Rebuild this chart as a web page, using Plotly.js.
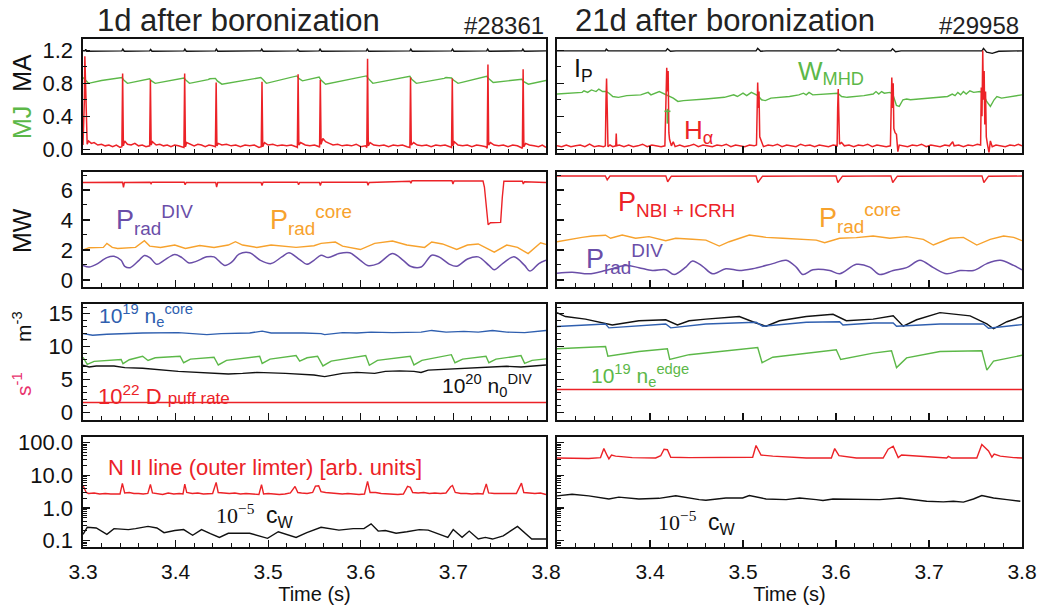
<!DOCTYPE html>
<html><head><meta charset="utf-8">
<script src="https://cdn.plot.ly/plotly-3.0.1.min.js"></script>
<style>html,body{margin:0;padding:0;background:#fff;}#chart{width:1040px;height:608px;}</style>
</head><body><div id="chart"></div>
<script>
// ---------------- DATA ----------------
const timeTicks = [3.3,3.4,3.5,3.6,3.7,3.8];
const timeTickTextL = ['3.3','3.4','3.5','3.6','3.7','3.8'];
const timeTickTextR = ['','3.4','3.5','3.6','3.7','3.8'];
const yTicks = [[0,0.4,0.8,1.2],[0,2,4,6],[0,5,10,15],[0.1,1,10,100]];
const yTickText = [['0.0','0.4','0.8','1.2'],['0','2','4','6'],['0','5','10','15'],['0.1','1.0','10.0','100.0']];

// Row 1 left (#28361)
const ipL = [[3.300,1.195],[3.3022,1.195],[3.303,1.215],[3.304,1.19],[3.342,1.195],[3.343,1.215],[3.3445,1.19],[3.372,1.195],[3.373,1.212],[3.3745,1.19],[3.409,1.195],[3.410,1.215],[3.4115,1.19],[3.443,1.195],[3.444,1.215],[3.4455,1.19],[3.492,1.195],[3.493,1.215],[3.4945,1.19],[3.531,1.195],[3.532,1.212],[3.5335,1.19],[3.555,1.195],[3.556,1.215],[3.5575,1.19],[3.606,1.195],[3.607,1.215],[3.6085,1.19],[3.653,1.195],[3.654,1.215],[3.6555,1.19],[3.698,1.195],[3.699,1.215],[3.7005,1.19],[3.736,1.195],[3.737,1.215],[3.7385,1.19],[3.774,1.195],[3.775,1.215],[3.7765,1.19],[3.800,1.195]];
const wmhdL = [[3.300,0.87],[3.302,0.85],[3.306,0.80],[3.320,0.835],[3.342,0.87],[3.344,0.84],[3.348,0.80],[3.372,0.855],[3.374,0.83],[3.378,0.80],[3.409,0.865],[3.411,0.84],[3.415,0.80],[3.435,0.845],[3.437,0.855],[3.443,0.86],[3.445,0.83],[3.450,0.79],[3.492,0.87],[3.494,0.85],[3.498,0.80],[3.531,0.89],[3.533,0.86],[3.537,0.83],[3.555,0.875],[3.557,0.84],[3.562,0.79],[3.606,0.89],[3.608,0.86],[3.613,0.80],[3.653,0.885],[3.655,0.85],[3.660,0.80],[3.690,0.86],[3.692,0.87],[3.698,0.865],[3.700,0.84],[3.705,0.80],[3.736,0.885],[3.738,0.86],[3.743,0.81],[3.774,0.85],[3.776,0.82],[3.781,0.79],[3.800,0.835]];
const halphaL = [[3.300,0.05],[3.3015,0.6],[3.302,1.13],[3.303,0.5],[3.304,0.30],[3.3045,0.06],[3.306,0.10],[3.309,0.07],[3.312,0.08],[3.316,0.05],[3.320,0.06],[3.324,0.04],[3.328,0.05],[3.332,0.03],[3.336,0.05],[3.340,0.02],[3.342,0.03],[3.3428,0.92],[3.3436,0.04],[3.345,0.10],[3.348,0.06],[3.352,0.05],[3.356,0.07],[3.360,0.04],[3.364,0.05],[3.368,0.03],[3.372,0.04],[3.3728,0.84],[3.3736,0.05],[3.375,0.09],[3.379,0.05],[3.383,0.06],[3.387,0.04],[3.391,0.05],[3.395,0.03],[3.399,0.05],[3.403,0.04],[3.407,0.03],[3.409,0.02],[3.4098,0.92],[3.4106,0.03],[3.412,0.08],[3.416,0.06],[3.420,0.04],[3.424,0.06],[3.428,0.05],[3.432,0.03],[3.436,0.05],[3.440,0.04],[3.443,0.03],[3.4438,0.81],[3.4446,0.04],[3.446,0.07],[3.450,0.05],[3.455,0.06],[3.460,0.04],[3.465,0.05],[3.470,0.03],[3.475,0.05],[3.480,0.04],[3.485,0.05],[3.490,0.02],[3.4925,0.03],[3.4933,0.82],[3.4941,0.03],[3.496,0.08],[3.500,0.05],[3.505,0.06],[3.510,0.04],[3.515,0.05],[3.520,0.04],[3.525,0.05],[3.530,0.03],[3.5315,0.02],[3.5323,0.91],[3.5331,0.05],[3.535,0.08],[3.540,0.05],[3.545,0.04],[3.550,0.05],[3.555,0.03],[3.5555,0.02],[3.5563,0.84],[3.5571,0.06],[3.559,0.13],[3.562,0.09],[3.566,0.07],[3.570,0.05],[3.575,0.06],[3.580,0.04],[3.585,0.05],[3.590,0.04],[3.595,0.06],[3.600,0.03],[3.605,0.04],[3.6065,0.02],[3.6073,1.10],[3.6081,0.04],[3.610,0.08],[3.614,0.05],[3.620,0.04],[3.625,0.05],[3.630,0.03],[3.635,0.05],[3.640,0.04],[3.645,0.05],[3.650,0.03],[3.653,0.02],[3.6537,0.87],[3.6545,0.05],[3.657,0.08],[3.661,0.05],[3.666,0.04],[3.671,0.05],[3.676,0.03],[3.681,0.05],[3.686,0.04],[3.691,0.05],[3.696,0.03],[3.698,0.02],[3.6988,0.86],[3.6996,0.04],[3.701,0.09],[3.705,0.05],[3.710,0.04],[3.715,0.05],[3.720,0.03],[3.725,0.05],[3.730,0.04],[3.735,0.03],[3.7365,0.01],[3.7373,1.03],[3.7381,0.05],[3.740,0.08],[3.744,0.05],[3.749,0.04],[3.754,0.05],[3.759,0.03],[3.764,0.05],[3.769,0.04],[3.773,0.02],[3.7745,0.01],[3.7753,0.97],[3.7761,0.03],[3.778,0.07],[3.782,0.05],[3.787,0.04],[3.792,0.03],[3.796,0.05],[3.800,0.02]];

// Row 1 right (#29958)
const ipR = [[3.300,1.195],[3.352,1.195],[3.353,1.215],[3.355,1.195],[3.417,1.195],[3.4187,1.22],[3.422,1.19],[3.428,1.195],[3.514,1.195],[3.5158,1.225],[3.519,1.19],[3.525,1.195],[3.600,1.195],[3.6022,1.215],[3.605,1.195],[3.659,1.195],[3.6608,1.22],[3.664,1.185],[3.670,1.195],[3.757,1.195],[3.7586,1.225],[3.762,1.18],[3.768,1.165],[3.775,1.19],[3.800,1.195]];
const wmhdR = [[3.300,0.67],[3.327,0.69],[3.329,0.71],[3.333,0.69],[3.337,0.72],[3.342,0.70],[3.345,0.73],[3.349,0.70],[3.353,0.70],[3.356,0.68],[3.360,0.64],[3.366,0.63],[3.375,0.65],[3.390,0.66],[3.398,0.69],[3.401,0.66],[3.410,0.70],[3.414,0.68],[3.418,0.66],[3.425,0.62],[3.430,0.58],[3.436,0.59],[3.460,0.61],[3.480,0.63],[3.490,0.66],[3.494,0.64],[3.500,0.68],[3.504,0.65],[3.509,0.69],[3.513,0.67],[3.516,0.65],[3.520,0.60],[3.524,0.59],[3.530,0.62],[3.550,0.64],[3.560,0.66],[3.565,0.68],[3.568,0.66],[3.571,0.69],[3.575,0.66],[3.590,0.67],[3.602,0.68],[3.606,0.64],[3.612,0.63],[3.630,0.65],[3.640,0.67],[3.643,0.70],[3.646,0.67],[3.649,0.70],[3.652,0.68],[3.658,0.69],[3.661,0.67],[3.665,0.53],[3.668,0.52],[3.672,0.60],[3.676,0.61],[3.680,0.60],[3.700,0.62],[3.720,0.64],[3.725,0.67],[3.728,0.65],[3.731,0.69],[3.734,0.66],[3.737,0.70],[3.740,0.67],[3.744,0.71],[3.748,0.69],[3.755,0.70],[3.758,0.68],[3.762,0.58],[3.766,0.52],[3.770,0.60],[3.773,0.64],[3.778,0.62],[3.790,0.64],[3.800,0.66]];
const wmhdCrossT = [3.4187,3.4187,null,3.4155,3.4220];
const wmhdCrossV = [0.49,0.31,null,0.46,0.46];
const halphaR = [[3.300,0.04],[3.305,0.03],[3.310,0.05],[3.315,0.03],[3.320,0.04],[3.325,0.05],[3.330,0.03],[3.335,0.06],[3.340,0.03],[3.345,0.04],[3.350,0.03],[3.352,0.04],[3.3527,0.6],[3.3533,0.86],[3.354,0.5],[3.3548,0.03],[3.357,0.05],[3.360,0.03],[3.3632,0.04],[3.3637,0.19],[3.3642,0.04],[3.367,0.05],[3.372,0.03],[3.377,0.05],[3.382,0.03],[3.387,0.04],[3.392,0.06],[3.397,0.03],[3.402,0.05],[3.407,0.04],[3.412,0.03],[3.416,0.04],[3.4172,0.5],[3.418,0.99],[3.4188,0.7],[3.4195,0.95],[3.4203,0.2],[3.421,0.12],[3.423,0.04],[3.425,0.09],[3.427,0.03],[3.432,0.05],[3.437,0.03],[3.442,0.04],[3.447,0.06],[3.452,0.03],[3.457,0.05],[3.462,0.04],[3.467,0.03],[3.472,0.05],[3.477,0.04],[3.482,0.06],[3.487,0.03],[3.492,0.05],[3.497,0.04],[3.502,0.03],[3.507,0.05],[3.512,0.04],[3.5145,0.05],[3.5152,0.6],[3.5158,0.81],[3.5165,0.5],[3.5172,0.7],[3.518,0.15],[3.520,0.08],[3.522,0.03],[3.527,0.05],[3.532,0.04],[3.537,0.06],[3.542,0.03],[3.547,0.05],[3.552,0.04],[3.557,0.03],[3.562,0.06],[3.567,0.04],[3.572,0.05],[3.577,0.03],[3.582,0.05],[3.587,0.04],[3.592,0.03],[3.597,0.05],[3.6012,0.04],[3.6018,0.5],[3.6024,0.73],[3.6031,0.4],[3.6038,0.06],[3.606,0.08],[3.609,0.04],[3.614,0.05],[3.619,0.03],[3.624,0.05],[3.629,0.04],[3.634,0.06],[3.639,0.03],[3.644,0.05],[3.649,0.04],[3.654,0.03],[3.6585,0.04],[3.6592,0.6],[3.6600,0.87],[3.6608,0.5],[3.6615,0.8],[3.6622,0.25],[3.6635,0.2],[3.665,0.18],[3.6665,-0.03],[3.668,0.05],[3.672,0.04],[3.677,0.03],[3.682,0.05],[3.687,0.04],[3.692,0.06],[3.697,0.03],[3.702,0.05],[3.707,0.04],[3.712,0.03],[3.717,0.05],[3.722,0.04],[3.7255,0.09],[3.727,0.04],[3.732,0.05],[3.737,0.03],[3.742,0.05],[3.747,0.04],[3.752,0.06],[3.7555,0.05],[3.7562,0.75],[3.7570,0.4],[3.7578,1.2],[3.7585,0.6],[3.7593,0.95],[3.7600,0.3],[3.7608,0.7],[3.7616,0.15],[3.763,0.05],[3.7645,-0.04],[3.766,0.10],[3.768,0.03],[3.772,0.05],[3.777,0.04],[3.782,0.03],[3.787,0.05],[3.792,0.04],[3.796,0.06],[3.800,0.04]];

// Row 2 left: heating power, radiated powers (MW)
const pheatL = [[3.300,6.50],[3.3427,6.52],[3.3437,6.18],[3.3447,6.50],[3.3725,6.52],[3.3735,6.42],[3.3745,6.52],[3.4093,6.52],[3.4103,6.35],[3.4115,6.50],[3.4433,6.50],[3.4443,6.20],[3.4455,6.50],[3.4923,6.50],[3.4933,6.30],[3.4945,6.52],[3.5318,6.52],[3.5328,6.35],[3.5340,6.50],[3.5553,6.50],[3.5563,6.30],[3.5575,6.52],[3.6068,6.52],[3.6078,6.32],[3.6090,6.50],[3.6531,6.58],[3.6541,6.45],[3.6553,6.62],[3.6985,6.62],[3.6995,6.40],[3.7007,6.60],[3.7320,6.60],[3.7335,6.2],[3.7375,3.68],[3.7400,3.82],[3.7510,3.84],[3.7528,5.5],[3.7545,6.58],[3.7745,6.58],[3.7755,6.40],[3.7767,6.55],[3.800,6.50]];
const pcoreL = [[3.300,1.99],[3.3066,2.15],[3.322,2.17],[3.3258,2.44],[3.3316,2.17],[3.3374,2.10],[3.3567,2.17],[3.3663,2.62],[3.3721,2.26],[3.3837,2.17],[3.3991,2.33],[3.4106,2.10],[3.4261,2.30],[3.4415,2.17],[3.4569,2.33],[3.4646,2.55],[3.4723,2.33],[3.4877,2.17],[3.5031,2.33],[3.5186,2.26],[3.5301,2.17],[3.5494,2.28],[3.5571,2.44],[3.5725,2.53],[3.5803,2.26],[3.5995,2.03],[3.615,2.44],[3.6342,2.60],[3.6497,2.33],[3.6689,2.17],[3.6766,2.53],[3.6882,2.40],[3.7036,2.03],[3.7152,2.33],[3.7268,2.40],[3.7441,1.85],[3.7576,2.33],[3.7692,2.17],[3.7807,1.76],[3.7942,2.48],[3.800,2.37]];
const pdivL = [[3.300,0.97],[3.3066,0.86],[3.3143,1.04],[3.3258,1.49],[3.3335,1.58],[3.3412,1.31],[3.3451,0.91],[3.3509,0.82],[3.3605,1.31],[3.3663,1.63],[3.3721,1.49],[3.3798,1.04],[3.3875,1.31],[3.3991,1.69],[3.4068,1.49],[3.4145,1.13],[3.4222,1.24],[3.4338,1.54],[3.4415,1.54],[3.4530,0.97],[3.4608,1.20],[3.4685,1.72],[3.4800,1.81],[3.4916,1.31],[3.5031,1.09],[3.5147,1.54],[3.5224,1.81],[3.5340,1.36],[3.5417,1.04],[3.5494,1.31],[3.5571,1.65],[3.5648,1.49],[3.5764,1.76],[3.5880,1.81],[3.5995,1.31],[3.6073,0.97],[3.6188,1.09],[3.6342,1.76],[3.6458,1.31],[3.6535,0.91],[3.6651,0.86],[3.6766,1.65],[3.6844,1.54],[3.6959,1.04],[3.7036,0.91],[3.7152,1.40],[3.7268,1.54],[3.7384,0.97],[3.7441,0.68],[3.7538,1.13],[3.7654,1.54],[3.7769,0.97],[3.7826,0.59],[3.7923,1.09],[3.800,1.31]];

// Row 2 right
const pheatR = [[3.300,6.93],[3.352,6.94],[3.354,6.67],[3.357,6.93],[3.417,6.94],[3.419,6.55],[3.423,6.92],[3.514,6.94],[3.516,6.50],[3.521,6.92],[3.600,6.94],[3.602,6.50],[3.607,6.92],[3.659,6.94],[3.661,6.50],[3.666,6.92],[3.757,6.94],[3.759,6.50],[3.764,6.92],[3.800,6.93]];
const pcoreR = [[3.300,2.55],[3.309,2.66],[3.327,2.84],[3.3378,2.93],[3.3522,2.98],[3.3576,2.78],[3.3701,3.00],[3.3845,2.78],[3.3989,2.89],[3.4169,2.62],[3.4277,2.78],[3.4457,2.71],[3.4601,2.66],[3.4745,2.26],[3.4852,2.55],[3.5068,3.00],[3.5248,2.84],[3.5428,2.78],[3.5608,2.71],[3.5788,2.66],[3.5878,2.48],[3.6039,2.78],[3.6219,2.82],[3.6399,2.93],[3.6579,2.78],[3.6759,2.89],[3.6939,2.71],[3.7047,2.33],[3.7227,2.78],[3.737,2.84],[3.7514,2.33],[3.7658,2.71],[3.7802,2.93],[3.791,2.84],[3.800,2.62]];
const pdivR = [[3.300,0.45],[3.3162,0.52],[3.3342,0.41],[3.3522,0.63],[3.3737,0.97],[3.3881,0.82],[3.4025,0.63],[3.4169,0.68],[3.4259,0.36],[3.4385,0.86],[3.4457,1.27],[3.4565,0.91],[3.4673,0.41],[3.4816,0.75],[3.496,0.63],[3.5104,0.75],[3.532,1.09],[3.5464,1.31],[3.5572,0.86],[3.5644,0.36],[3.5752,0.68],[3.5932,0.63],[3.6039,0.41],[3.6219,1.04],[3.6363,0.86],[3.6471,0.36],[3.6615,0.63],[3.6759,0.82],[3.6903,1.31],[3.7047,0.82],[3.719,0.41],[3.7334,0.63],[3.7478,0.63],[3.7622,1.09],[3.7766,1.31],[3.791,0.97],[3.800,0.68]];

// Row 3 left: densities, puff rate
const necoreL = [[3.300,11.96],[3.3104,11.72],[3.3258,11.86],[3.3644,12.06],[3.4029,12.11],[3.4338,11.81],[3.4492,11.96],[3.48,12.06],[3.4935,12.35],[3.5032,12.06],[3.5379,12.06],[3.5571,11.96],[3.561,11.81],[3.5803,12.11],[3.5957,12.06],[3.6111,12.2],[3.6342,12.11],[3.6497,12.11],[3.6651,12.2],[3.6766,12.45],[3.6921,12.2],[3.7113,12.3],[3.7268,12.2],[3.7422,12.45],[3.7576,12.2],[3.7769,12.11],[3.7884,12.3],[3.800,12.45]];
const needgeL = [[3.300,8.38],[3.3046,7.30],[3.312,7.75],[3.3412,8.04],[3.3432,7.40],[3.350,8.0],[3.3644,8.53],[3.3702,7.89],[3.378,8.3],[3.4049,8.53],[3.4087,7.55],[3.416,8.1],[3.4415,8.38],[3.4461,7.21],[3.455,7.9],[3.4908,8.53],[3.4935,7.45],[3.502,8.1],[3.5301,8.63],[3.534,7.79],[3.542,8.3],[3.5533,8.53],[3.5591,7.06],[3.568,7.8],[3.6053,8.63],[3.6092,7.16],[3.618,7.9],[3.6535,8.53],[3.6574,7.21],[3.666,7.9],[3.6978,8.77],[3.7017,7.55],[3.710,8.1],[3.7352,8.53],[3.7383,7.55],[3.746,8.1],[3.773,8.63],[3.7769,7.45],[3.785,7.9],[3.800,8.14]];
const n0divL = [[3.300,7.16],[3.3066,6.91],[3.3143,7.06],[3.3335,7.06],[3.3451,6.81],[3.3644,6.72],[3.4029,6.23],[3.4415,5.93],[3.4569,5.83],[3.4723,5.93],[3.4877,6.08],[3.5186,5.93],[3.5494,5.69],[3.561,5.44],[3.5803,5.93],[3.5957,6.08],[3.615,5.93],[3.6265,6.23],[3.6419,6.32],[3.6574,6.23],[3.6651,6.08],[3.6728,6.42],[3.6959,6.57],[3.719,6.72],[3.7422,6.91],[3.7576,7.01],[3.773,6.91],[3.800,7.21]];
const puffL = [[3.300,1.52],[3.800,1.52]];

// Row 3 right
const n0divR = [[3.300,15.15],[3.309,14.56],[3.3306,14.17],[3.3594,13.28],[3.3881,13.92],[3.4169,14.07],[3.4295,13.28],[3.4421,13.92],[3.4601,14.17],[3.496,14.56],[3.514,13.58],[3.5248,13.09],[3.5392,13.92],[3.568,14.56],[3.5968,14.9],[3.6111,13.92],[3.6399,14.17],[3.6615,14.66],[3.6723,13.09],[3.6867,14.07],[3.7118,15.15],[3.7442,14.66],[3.7622,13.43],[3.7694,12.7],[3.7838,13.77],[3.800,14.56]];
const necoreR = [[3.300,13.04],[3.3522,13.43],[3.3558,12.84],[3.4169,13.43],[3.4223,12.84],[3.4601,13.43],[3.514,13.68],[3.5212,13.09],[3.568,13.68],[3.6039,13.77],[3.6075,13.28],[3.6399,13.58],[3.6615,13.58],[3.6651,13.09],[3.7118,13.43],[3.7586,13.43],[3.764,12.79],[3.800,13.33]];
const needgeR = [[3.300,9.66],[3.3522,10.0],[3.3547,8.53],[3.3881,9.26],[3.4187,9.66],[3.4212,8.04],[3.4421,8.77],[3.5158,9.85],[3.5205,7.55],[3.532,8.38],[3.6003,9.51],[3.605,8.04],[3.6399,9.0],[3.6597,9.36],[3.6651,6.81],[3.6759,8.28],[3.7118,9.26],[3.7568,9.36],[3.7622,6.42],[3.7694,7.79],[3.800,8.68]];
const puffR = [[3.300,3.48],[3.800,3.48]];

// Row 4 left: N II line and c_W (log)
const niiL = [[3.300,4.9],[3.3035,3.0],[3.306,2.8],[3.312,2.9],[3.318,2.7],[3.324,2.8],[3.330,2.7],[3.336,2.75],[3.340,2.7],[3.3425,5.7],[3.345,2.9],[3.350,3.0],[3.355,2.8],[3.360,2.8],[3.365,2.7],[3.370,2.8],[3.3728,5.3],[3.375,2.9],[3.380,2.8],[3.386,2.6],[3.392,2.9],[3.398,2.7],[3.404,2.8],[3.408,2.7],[3.4099,5.4],[3.412,3.0],[3.418,2.8],[3.424,2.9],[3.430,2.7],[3.436,2.7],[3.440,2.8],[3.4438,6.1],[3.446,3.0],[3.452,2.9],[3.458,2.8],[3.464,2.9],[3.470,2.7],[3.476,2.8],[3.482,2.7],[3.490,2.6],[3.4928,5.2],[3.495,2.7],[3.500,2.8],[3.506,2.7],[3.512,2.6],[3.518,2.7],[3.524,2.9],[3.529,4.6],[3.532,3.0],[3.536,2.9],[3.542,2.8],[3.548,3.0],[3.551,4.7],[3.5545,4.8],[3.557,3.2],[3.562,3.0],[3.568,2.9],[3.574,2.8],[3.580,2.7],[3.586,2.8],[3.592,2.7],[3.598,2.6],[3.604,2.7],[3.6073,6.6],[3.610,3.0],[3.616,3.0],[3.622,2.8],[3.628,2.7],[3.634,2.6],[3.640,2.6],[3.646,2.7],[3.6505,4.6],[3.6535,4.3],[3.656,3.0],[3.662,2.9],[3.668,3.0],[3.674,2.8],[3.680,2.9],[3.686,2.8],[3.692,2.9],[3.697,4.5],[3.699,4.9],[3.702,3.0],[3.708,2.8],[3.714,2.8],[3.720,2.7],[3.726,2.8],[3.732,2.7],[3.7355,5.5],[3.738,2.9],[3.744,2.8],[3.750,2.8],[3.756,2.7],[3.762,2.7],[3.768,2.8],[3.7735,5.8],[3.776,3.0],[3.782,2.9],[3.788,2.8],[3.794,2.9],[3.800,2.6]];
const cwL = [[3.300,0.158],[3.3046,0.258],[3.3143,0.247],[3.3258,0.158],[3.3335,0.235],[3.349,0.22],[3.3567,0.235],[3.3702,0.276],[3.3798,0.247],[3.3875,0.177],[3.3991,0.206],[3.4087,0.22],[3.4184,0.148],[3.428,0.22],[3.4376,0.166],[3.4473,0.127],[3.4569,0.17],[3.48,0.17],[3.4993,0.119],[3.5109,0.189],[3.5301,0.127],[3.5417,0.177],[3.5571,0.258],[3.5764,0.212],[3.5918,0.235],[3.6034,0.235],[3.6111,0.33],[3.6188,0.198],[3.6265,0.206],[3.6381,0.17],[3.6497,0.189],[3.6632,0.22],[3.6728,0.212],[3.6882,0.142],[3.694,0.127],[3.6998,0.22],[3.7094,0.127],[3.7171,0.198],[3.7268,0.113],[3.7345,0.127],[3.7422,0.113],[3.7538,0.142],[3.7692,0.276],[3.7846,0.113],[3.800,0.113]];

// Row 4 right
const niiR = [[3.300,34],[3.3162,34],[3.3342,33],[3.3468,35],[3.3504,66],[3.354,40],[3.3558,32],[3.3586,42],[3.363,38.7],[3.3809,35],[3.4061,34],[3.4115,40],[3.4151,63],[3.4187,61],[3.4223,36],[3.4421,35],[3.478,35],[3.5104,36],[3.514,82],[3.5194,42],[3.532,38.7],[3.568,34],[3.595,34],[3.5986,66],[3.6032,40],[3.6219,34],[3.6507,34],[3.6561,63],[3.6615,78],[3.6669,35],[3.6705,42],[3.6939,38.7],[3.719,34],[3.7208,38],[3.7244,34],[3.7514,34],[3.7568,88],[3.764,56],[3.7676,36],[3.7701,45],[3.7766,38.7],[3.791,35],[3.800,34]];
const cwR = [[3.300,2.37],[3.3162,2.65],[3.3342,2.37],[3.3558,1.9],[3.3665,2.17],[3.3881,1.9],[3.4097,1.99],[3.4277,2.37],[3.4529,1.82],[3.4601,1.74],[3.4816,2.03],[3.4996,2.03],[3.5068,2.42],[3.5248,1.9],[3.5464,1.82],[3.5608,2.03],[3.5788,1.82],[3.586,1.7],[3.5968,1.9],[3.6327,1.9],[3.6471,1.82],[3.6687,2.03],[3.6975,1.62],[3.7154,1.55],[3.7262,1.62],[3.737,1.52],[3.7478,1.9],[3.7568,2.42],[3.7694,2.03],[3.7838,1.82],[3.7982,1.62]];

// ---------------- STYLE / LAYOUT ----------------
const W = 1040, H = 608;
const FONT = 'Liberation Sans, Arial, Helvetica, sans-serif';
const SERIF = 'Liberation Serif, Times New Roman, serif';
const C = {red:'#ec2227', green:'#5cb848', black:'#111111', blue:'#2f5faf', orange:'#f7a22d', purple:'#6a4ea8', pink:'#e8336d'};
const colPx = [[83,546],[557,1022]];
const rowPx = [[39,153],[172,287],[304,420],[437,547]];
const yRanges = [[-0.047,1.339],[-0.47,7.2],[-1.14,16.46],[-1.19,2.174]];
const yMinor = [0.2,1,1,null];

function sfx(i){ return i===1 ? '' : String(i); }
const layout = {
  width: W, height: H, margin:{l:0,r:0,t:0,b:0},
  paper_bgcolor:'#fff', plot_bgcolor:'#fff', showlegend:false,
  font:{family:FONT, color:'#111'},
  annotations: []
};
for (let r=0;r<4;r++){
  for (let c=0;c<2;c++){
    const i = r*2+c+1;
    const xa = {
      domain:[colPx[c][0]/W, colPx[c][1]/W], anchor:'y'+sfx(i),
      range:[3.3,3.8], showgrid:false, zeroline:false,
      showline:true, mirror:true, linecolor:'#111', linewidth:1.6,
      ticks:'inside', ticklen:7, tickwidth:1.2, tickcolor:'#111',
      tickmode:'array', tickvals:timeTicks, ticktext: c===0 ? timeTickTextL : timeTickTextR,
      showticklabels: r===3, tickfont:{family:FONT, size:21, color:'#111'},
      ticklabelstandoff: 5,
      minor:{ticks:'inside', ticklen:4, tickwidth:1, tickcolor:'#111', tickmode:'linear', tick0:3.3, dtick:0.02}
    };
    if (r===3) xa.title = {text:'Time (s)', font:{family:FONT,size:20,color:'#111'}, standoff:0};
    layout['xaxis'+sfx(i)] = xa;
    const ya = {
      domain:[1-rowPx[r][1]/H, 1-rowPx[r][0]/H], anchor:'x'+sfx(i),
      showgrid:false, zeroline:false,
      showline:true, mirror:true, linecolor:'#111', linewidth:1.6,
      ticks:'inside', ticklen:7, tickwidth:1.2, tickcolor:'#111',
      tickmode:'array', tickvals:yTicks[r], ticktext:yTickText[r],
      showticklabels: c===0, tickfont:{family:FONT, size:22, color:'#111'},
      ticklabelstandoff: 4
    };
    if (r===3){
      ya.type='log'; ya.range=yRanges[r];
      ya.minor={ticks:'inside', ticklen:4, tickwidth:1, tickcolor:'#111', tickmode:'linear', dtick:'D1'};
    } else {
      ya.type='linear'; ya.range=yRanges[r];
      ya.minor={ticks:'inside', ticklen:4, tickwidth:1, tickcolor:'#111', tickmode:'linear', tick0:0, dtick:yMinor[r]};
    }
    layout['yaxis'+sfx(i)] = ya;
  }
}

function line(pairs, color, i, width, shape){
  return {type:'scatter', mode:'lines', x:pairs.map(p=>p[0]), y:pairs.map(p=>p[1]),
    xaxis:'x'+sfx(i), yaxis:'y'+sfx(i), line:{color:color, width:width||1.4, shape:shape||'linear', smoothing:0.9}, hoverinfo:'skip'};
}
const data = [
  line(ipL, C.black, 1), line(wmhdL, C.green, 1), line(halphaL, C.red, 1, 1.5),
  line(ipR, C.black, 2), line(wmhdR, C.green, 2), line(halphaR, C.red, 2, 1.5),
  {type:'scatter', mode:'lines', x:wmhdCrossT, y:wmhdCrossV, xaxis:'x2', yaxis:'y2', line:{color:C.green,width:1.6}, connectgaps:false, hoverinfo:'skip'},
  line(pheatL, C.red, 3), line(pcoreL, C.orange, 3), line(pdivL, C.purple, 3, 1.5, 'spline'),
  line(pheatR, C.red, 4), line(pcoreR, C.orange, 4), line(pdivR, C.purple, 4, 1.5, 'spline'),
  line(necoreL, C.blue, 5), line(needgeL, C.green, 5), line(n0divL, C.black, 5), line(puffL, C.red, 5),
  line(n0divR, C.black, 6), line(necoreR, C.blue, 6), line(needgeR, C.green, 6), line(puffR, C.red, 6),
  line(niiL, C.red, 7), line(cwL, C.black, 7),
  line(niiR, C.red, 8), line(cwR, C.black, 8)
];

function ann(text, x, y, size, color, opts){
  return Object.assign({text:text, x:x/W, y:1-y/H, xref:'paper', yref:'paper', showarrow:false,
    xanchor:'left', yanchor:'middle', font:{family:FONT, size:size, color:color}}, opts||{});
}
layout.annotations = [
  ann('1d after boronization', 95, 21, 31, '#222'),
  ann('#28361', 546, 26, 24, '#222', {xanchor:'right'}),
  ann('21d after boronization', 573, 21, 31, '#222'),
  ann('#29958', 1021, 26, 24, '#222', {xanchor:'right'}),
  ann('<span style="color:'+C.green+'">MJ</span>  MA', 22, 97, 25, '#111', {textangle:-90, xanchor:'center'}),
  ann('MW', 22, 231, 25, '#111', {textangle:-90, xanchor:'center'}),
  ann('m<sup>-3</sup>', 22, 327, 21, '#111', {textangle:-90, xanchor:'center'}),
  ann('s<sup>-1</sup>', 22, 384, 21, C.pink, {textangle:-90, xanchor:'center'}),
  ann('I<sub>P</sub>', 572, 70, 25, '#111'),
  ann('W<sub>MHD</sub>', 796, 72, 26, C.green),
  ann('H<sub>α</sub>', 682, 131, 26, C.red),
  ann('P<sub>rad</sub><sup>DIV</sup>', 114, 220, 27, C.purple),
  ann('P<sub>rad</sub><sup>core</sup>', 268, 220, 27, C.orange),
  ann('P<sub>NBI + ICRH</sub>', 616, 204, 27, C.red),
  ann('P<sub>rad</sub><sup>core</sup>', 817, 218, 27, C.orange),
  ann('P<sub>rad</sub><sup>DIV</sup>', 584, 259, 27, C.purple),
  ann('10<sup>19</sup> n<sub>e</sub><sup>core</sup>', 97, 315, 21, C.blue),
  ann('10<sup>20</sup> n<sub>0</sub><sup>DIV</sup>', 440, 386, 21, '#111'),
  ann('10<sup>22</sup> D <span style="font-size:17px">puff rate</span>', 96, 395, 22, C.red),
  ann('10<sup>19</sup> n<sub>e</sub><sup>edge</sup>', 589, 375, 21, C.green),
  ann('N II line (outer limter) [arb. units]', 106, 467, 22, C.red),
  ann('10<sup>−5</sup>', 214, 514, 22, '#111', {font:{family:SERIF,size:22,color:'#111'}}),
  ann('c<sub>W</sub>', 264, 516, 23, '#111'),
  ann('10<sup>−5</sup>', 656, 521, 22, '#111', {font:{family:SERIF,size:22,color:'#111'}}),
  ann('c<sub>W</sub>', 706, 523, 23, '#111')
];

Plotly.newPlot('chart', data, layout, {staticPlot:true, displayModeBar:false});
</script></body></html>
